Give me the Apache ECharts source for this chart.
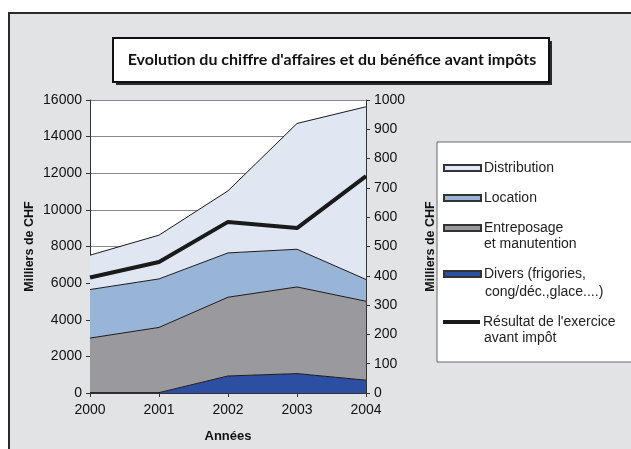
<!DOCTYPE html>
<html><head><meta charset="utf-8">
<script src="https://cdn.jsdelivr.net/npm/echarts@6/dist/echarts.min.js"></script>
<style>html,body{margin:0;padding:0;background:#fff}#c{width:631px;height:449px}</style>
</head><body><div id="c"></div>
<script>
const years = ['2000','2001','2002','2003','2004'];
const divers = [20, 20, 930, 1060, 700];
const entreposage = [2980, 3560, 4300, 4730, 4310];
const locationVals = [2650, 2650, 2420, 2060, 1190];
const distribution = [1875, 2390, 3390, 6870, 9430];
const resultat = [394, 447, 584, 563, 740];
const leftTicks = [0, 16000, 2000];
const rightTicks = [0, 1000, 100];

const names = {
  dist: 'Distribution',
  loc: 'Location',
  ent: 'Entreposage\net manutention',
  div: 'Divers (frigories,\ncong/déc.,glace....)',
  res: "Résultat de l'exercice\navant impôt"
};
const FONT = 'Liberation Sans, Arial, sans-serif';
const chart = echarts.init(document.getElementById('c'), null, {renderer: 'canvas'});

function area(name, data, color) {
  return {
    name, type: 'line', stack: 'ca', data, symbol: 'none',
    lineStyle: {color: '#1a1a1a', width: 1},
    itemStyle: {color: color, borderColor: '#333', borderWidth: 1},
    areaStyle: {color: color, opacity: 1}
  };
}
function leg(name, top, opts) {
  return Object.assign({
    data: [name], left: 438, top: top, orient: 'vertical',
    icon: 'rect', itemWidth: 37, itemHeight: 6, itemGap: 0,
    textStyle: {fontFamily: FONT, fontSize: 14, color: '#222', padding: [0,0,0,-2]},
    formatter: n => n.split('\n')[0], selectedMode: false
  }, opts || {});
}
const plain = v => String(v);

chart.setOption({
  animation: false,
  backgroundColor: '#fff',
  graphic: [
    {type: 'rect', z: -10, shape: {x: 9, y: 13, width: 640, height: 460},
     style: {fill: '#e2e3e5', stroke: '#2a2a2a', lineWidth: 2}},
    {type: 'rect', z: 10, shape: {x: 116, y: 41, width: 436, height: 44}, style: {fill: '#2a2a2a'}},
    {type: 'rect', z: 11, shape: {x: 113, y: 38, width: 436, height: 44},
     style: {fill: '#fff', stroke: '#111', lineWidth: 2}},
    {type: 'text', z: 12, x: 332, y: 60,
     style: {text: "Evolution du chiffre d'affaires et du bénéfice avant impôts",
       font: 'bold 16px Lato, sans-serif', fill: '#111', textAlign: 'center', textVerticalAlign: 'middle'}},
    {type: 'rect', z: 1, shape: {x: 437, y: 142, width: 210, height: 220},
     style: {fill: '#fff', stroke: '#666', lineWidth: 1}},
    {type: 'text', z: 5, x: 484, y: 244, style: {text: 'et manutention', font: '14px ' + FONT, fill: '#222', textVerticalAlign: 'middle'}},
    {type: 'text', z: 5, x: 485, y: 292, style: {text: 'cong/déc.,glace....)', font: '14px ' + FONT, fill: '#222', textVerticalAlign: 'middle'}},
    {type: 'text', z: 5, x: 484, y: 338, style: {text: 'avant impôt', font: '14px ' + FONT, fill: '#222', textVerticalAlign: 'middle'}}
  ],
  legend: [
    leg(names.dist, 156),
    leg(names.loc, 186),
    leg(names.ent, 216),
    leg(names.div, 262),
    leg(names.res, 310, {itemStyle: {color: '#1a1a1a', borderWidth: 0}, itemHeight: 4})
  ],
  grid: {left: 90, right: 265, top: 100, bottom: 56, show: true, backgroundColor: '#fff', borderWidth: 0},
  xAxis: {
    type: 'category', data: years, boundaryGap: false,
    name: 'Années', nameLocation: 'middle', nameGap: 37,
    nameTextStyle: {fontFamily: FONT, fontWeight: 'bold', fontSize: 13, color: '#111'},
    axisLine: {lineStyle: {color: '#333', width: 1}},
    axisTick: {show: true, length: 4, lineStyle: {color: '#333'}},
    axisLabel: {fontFamily: FONT, fontSize: 14, color: '#111', margin: 10},
    splitLine: {show: false}
  },
  yAxis: [
    {type: 'value', min: leftTicks[0], max: leftTicks[1], interval: leftTicks[2],
     name: 'Milliers de CHF', nameLocation: 'middle', nameGap: 54, nameRotate: 90,
     nameTextStyle: {fontFamily: FONT, fontWeight: 'bold', fontSize: 12.5, color: '#111'},
     axisLine: {show: true, lineStyle: {color: '#333'}},
     axisTick: {show: true, length: 4, lineStyle: {color: '#333'}},
     axisLabel: {fontFamily: FONT, fontSize: 14, color: '#111', margin: 8, formatter: plain},
     splitLine: {show: true, lineStyle: {color: '#888', width: 1}}},
    {type: 'value', min: rightTicks[0], max: rightTicks[1], interval: rightTicks[2], position: 'right',
     name: 'Milliers de CHF', nameLocation: 'middle', nameGap: 58, nameRotate: 90,
     nameTextStyle: {fontFamily: FONT, fontWeight: 'bold', fontSize: 12.5, color: '#111'},
     axisLine: {show: true, lineStyle: {color: '#333'}},
     axisTick: {show: true, length: 4, lineStyle: {color: '#333'}},
     axisLabel: {fontFamily: FONT, fontSize: 14, color: '#111', margin: 8, formatter: plain},
     splitLine: {show: false}}
  ],
  series: [
    area(names.div, divers, '#2c4fa3'),
    area(names.ent, entreposage, '#9a999e'),
    area(names.loc, locationVals, '#98b5d7'),
    area(names.dist, distribution, '#e0e7f2'),
    {name: names.res, type: 'line', yAxisIndex: 1, data: resultat, symbol: 'none', z: 5,
     lineStyle: {color: '#1a1a1a', width: 4}, itemStyle: {color: '#1a1a1a'}}
  ]
});
</script></body></html>
